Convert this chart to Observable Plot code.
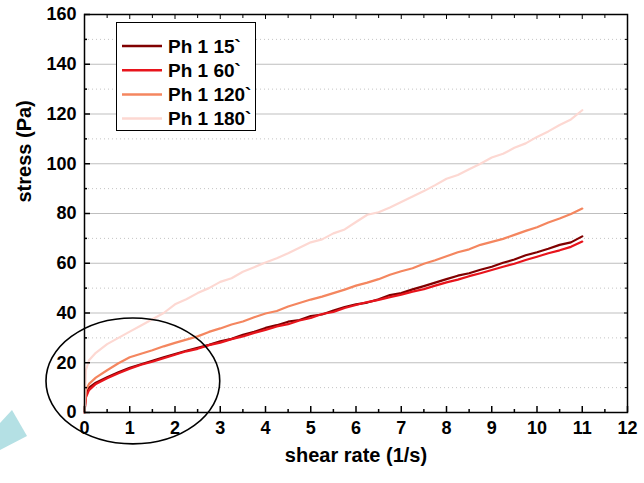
<!DOCTYPE html>
<html><head><meta charset="utf-8">
<script src="https://cdn.jsdelivr.net/npm/d3@7"></script>
<script src="https://cdn.jsdelivr.net/npm/@observablehq/plot@0.6"></script>
<style>
html,body{margin:0;padding:0;background:#fff;}
#chart{position:relative;width:644px;height:483px;overflow:hidden;}
</style></head><body><div id="chart"></div>
<script>
const shearRate = [0, 0.03, 0.1, 0.25, 0.5, 0.75, 1, 1.25, 1.5, 1.75, 2, 2.25, 2.5, 2.75, 3, 3.25, 3.5, 3.75, 4, 4.25, 4.5, 4.75, 5, 5.25, 5.5, 5.75, 6, 6.25, 6.5, 6.75, 7, 7.25, 7.5, 7.75, 8, 8.25, 8.5, 8.75, 9, 9.25, 9.5, 9.75, 10, 10.25, 10.5, 10.75, 11];
const ph15 = [0, 7, 10, 12, 14.2, 16.2, 18, 19.4, 20.8, 22.2, 23.5, 24.8, 26, 27.2, 28.6, 29.6, 31.2, 32.4, 34, 35.1, 36.5, 37.2, 38.8, 39.4, 41, 42.4, 43.5, 44.2, 45.5, 47.2, 48, 49.5, 50.8, 52.2, 53.6, 55, 56, 57.4, 58.6, 60.2, 61.5, 63.2, 64.4, 65.8, 67.4, 68.4, 70.8];
const ph60 = [0, 6, 9, 11.5, 13.8, 15.8, 17.6, 19.2, 20.4, 21.8, 23.2, 24.6, 25.6, 27.1, 28.1, 29.5, 30.6, 32, 33.2, 34.6, 35.5, 37, 38, 39.6, 40.4, 42, 43.2, 44.4, 45.3, 46.4, 47.4, 48.6, 49.6, 51, 52.3, 53.4, 54.8, 56, 57.3, 58.6, 59.8, 61.3, 62.6, 64, 65.2, 66.6, 68.7];
const ph120 = [0, 9, 11.5, 14, 17, 19.8, 22.2, 23.6, 25, 26.6, 28, 29.3, 30.6, 32.4, 33.8, 35.4, 36.6, 38.3, 39.8, 40.8, 42.6, 44, 45.4, 46.6, 48, 49.4, 51, 52.2, 53.6, 55.4, 56.8, 58, 59.8, 61.2, 62.8, 64.4, 65.6, 67.4, 68.6, 69.8, 71.4, 73, 74.5, 76.4, 78, 79.8, 82];
const ph180 = [0, 17, 21, 24, 27.5, 30, 32.5, 35, 37.5, 40, 43.5, 45.5, 48, 50, 52.5, 54, 56.6, 58.4, 60.3, 62, 64, 66.2, 68.4, 69.6, 72, 73.6, 76.6, 79.5, 80.5, 82.4, 84.6, 86.8, 89, 91.4, 94, 95.5, 97.8, 100, 102.5, 104, 106.4, 108.2, 110.8, 113, 115.6, 117.8, 121.5];
const seriesNames = ["Ph 1 15`", "Ph 1 60`", "Ph 1 120`", "Ph 1 180`"];
const seriesColors = ["#800000", "#e8141c", "#f4865f", "#fdd8d2"];
const xTicks = [0, 1, 2, 3, 4, 5, 6, 7, 8, 9, 10, 11, 12];
const xMinor = [0.5, 1.5, 2.5, 3.5, 4.5, 5.5, 6.5, 7.5, 8.5, 9.5, 10.5, 11.5];
const yTicks = [0, 20, 40, 60, 80, 100, 120, 140, 160];
const yMinor = [10, 30, 50, 70, 90, 110, 130, 150];
const xTitle = "shear rate (1/s)";
const yTitle = "stress (Pa)";
// hand-drawn ellipse annotation (data units)
const ellipseCenter = [1.08, 12.5];
const ellipseRadii = [1.92, 25.3];

const rows = [];
[ph15, ph60, ph120, ph180].forEach((arr, i) => arr.forEach((v, j) => rows.push({series: seriesNames[i], x: shearRate[j], y: v})));

const font = "'Liberation Sans', Arial, sans-serif";
const plot = Plot.plot({
  width: 644, height: 483,
  marginLeft: 84, marginRight: 17, marginTop: 14, marginBottom: 71,
  style: {fontFamily: font, fontWeight: "bold", fontSize: "18px", background: "white", color: "black", overflow: "visible"},
  x: {domain: [0, 12], axis: null},
  y: {domain: [0, 160], axis: null},
  color: {domain: seriesNames, range: seriesColors},
  marks: [
    Plot.gridY(yMinor, {stroke: "#c4c4c4", strokeOpacity: 1, strokeDasharray: "1,3"}),
    Plot.gridY(yTicks.filter(d => d > 0 && d < 160), {stroke: "#bfbfbf", strokeOpacity: 1}),
    Plot.line(rows, {x: "x", y: "y", z: "series", stroke: "series", strokeWidth: 2.2}),
    Plot.frame({stroke: "black", strokeWidth: 1.5}),
    Plot.axisX(xTicks, {anchor: "bottom", tickSize: 6, dy: -6, fill: "none", label: null, strokeWidth: 1.5}),
    Plot.axisX(xMinor, {anchor: "bottom", tickSize: 3, dy: -3, fill: "none", label: null, strokeWidth: 1.5}),
    Plot.axisX(xTicks, {anchor: "top", tickSize: 4, dy: 4, fill: "none", label: null}),
    Plot.axisX(xMinor, {anchor: "top", tickSize: 3, dy: 3, fill: "none", label: null}),
    Plot.axisY(yTicks, {anchor: "left", tickSize: 6, dx: 6, fill: "none", label: null, strokeWidth: 1.5}),
    Plot.axisY(yMinor, {anchor: "left", tickSize: 3, dx: 3, fill: "none", label: null, strokeWidth: 1.5}),
    Plot.axisY(yTicks, {anchor: "right", tickSize: 4, dx: -4, fill: "none", label: null}),
    Plot.axisY(yMinor, {anchor: "right", tickSize: 3, dx: -3, fill: "none", label: null}),
    Plot.axisX(xTicks, {anchor: "bottom", tickSize: 0, tickPadding: 9, label: null, fontSize: 18, fontWeight: "bold"}),
    Plot.axisY(yTicks, {anchor: "left", tickSize: 0, tickPadding: 8, label: null, fontSize: 18, fontWeight: "bold"}),
    Plot.text([xTitle], {frameAnchor: "bottom", dy: 49, fontSize: 20, fontWeight: "bold"}),
    Plot.text([yTitle], {frameAnchor: "left", rotate: -90, dx: -60, dy: -11, fontSize: 20, fontWeight: "bold"})
  ]
});

const svg = d3.select(plot);
svg.selectAll("text").style("font-weight", "bold").style("font-family", font);
const sx = plot.scale("x"), sy = plot.scale("y");
// decorative cyan shape at lower left
svg.insert("polygon", ":first-child").attr("points", "0,423 12,410 27,436 0,450").attr("fill", "#b4e0e4");
// ellipse annotation
const cx = sx.apply(ellipseCenter[0]), cy = sy.apply(ellipseCenter[1]);
const rx = sx.apply(ellipseCenter[0] + ellipseRadii[0]) - cx;
const ry = cy - sy.apply(ellipseCenter[1] + ellipseRadii[1]);
svg.append("ellipse").attr("cx", cx).attr("cy", cy).attr("rx", rx).attr("ry", ry)
  .attr("fill", "none").attr("stroke", "black").attr("stroke-width", 1.6);
// legend
const lg = svg.append("g");
lg.append("rect").attr("x", 116.5).attr("y", 22.5).attr("width", 139).attr("height", 108)
  .attr("fill", "white").attr("stroke", "black").attr("stroke-width", 1);
seriesNames.forEach((name, i) => {
  const yy = 46 + i * 24.2;
  lg.append("line").attr("x1", 122).attr("x2", 162).attr("y1", yy).attr("y2", yy)
    .attr("stroke", seriesColors[i]).attr("stroke-width", 2.5);
  lg.append("text").attr("x", 168).attr("y", yy).attr("dy", "0.36em")
    .attr("text-anchor", "start")
    .style("font-family", font).style("font-weight", "bold").style("font-size", "19px")
    .attr("fill", "black").text(name);
});

document.getElementById("chart").appendChild(plot);
</script></body></html>
